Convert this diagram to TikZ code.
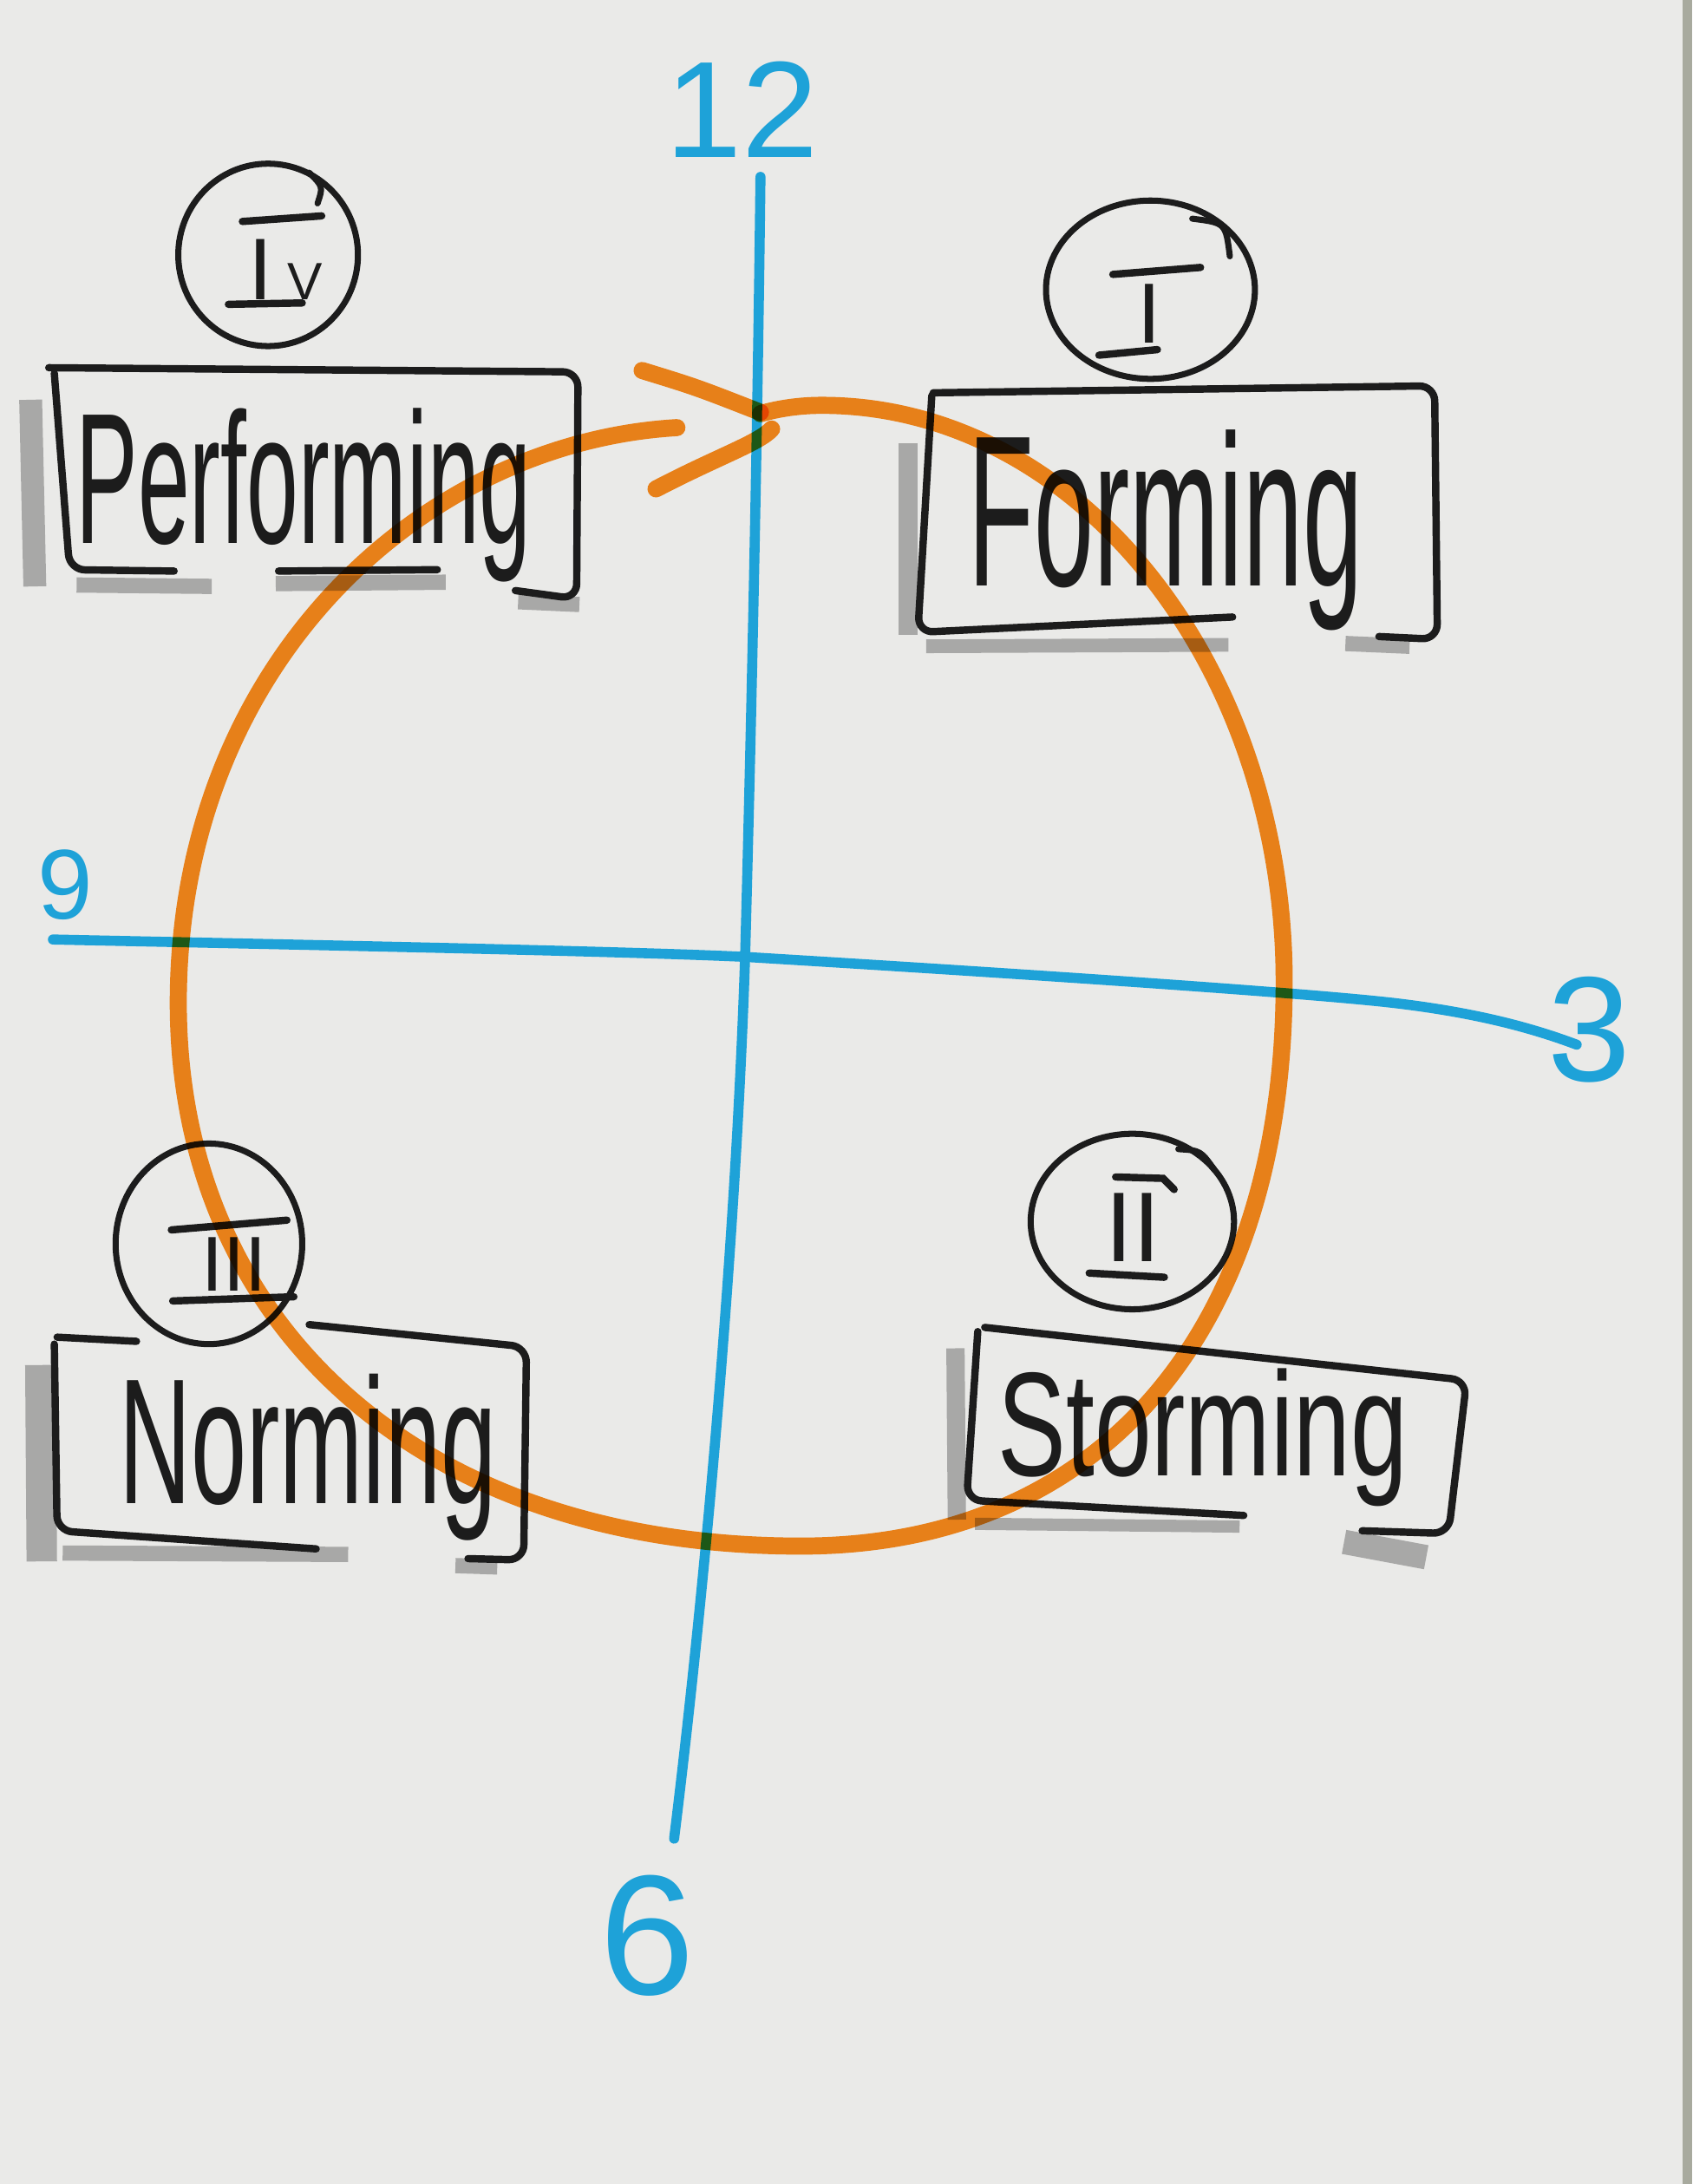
\documentclass[tikz,border=0pt]{standalone}
\usepackage{fontspec}
\setmainfont{Liberation Sans}
\usepackage{graphicx}
\usetikzlibrary{calc}
\newlength{\spx}
\setlength{\spx}{0.016058cm}

\definecolor{paper}{RGB}{234,234,232}
\definecolor{paperedge}{RGB}{168,170,158}
\definecolor{mblue}{RGB}{30,162,216}
\definecolor{morange}{RGB}{252,140,28}
\definecolor{ink}{RGB}{28,28,28}
\definecolor{shade}{RGB}{184,184,184}

\begin{document}
\begin{tikzpicture}[x=0.016058cm, y=-0.016058cm,
  blueline/.style={draw=mblue, line width=3.3pt, line cap=round, line join=round},
  orangeline/.style={draw=morange, line width=5.6pt, line cap=round, line join=round, blend mode=multiply},
  frame/.style={draw=ink, line width=2.4pt, line cap=round, line join=round, rounded corners=5pt},
  shadowline/.style={draw=shade, line cap=butt, blend mode=multiply},
  ring/.style={draw=ink, line width=2pt, line cap=round},
  bar/.style={draw=ink, line width=2.4pt, line cap=round},
  word/.style={inner sep=0pt, anchor=north west, text=ink},
  numeral/.style={inner sep=0pt, anchor=base, text=ink},
  hour/.style={inner sep=0pt, anchor=base, text=mblue},
]
% paper
\fill[paper] (0,0) rectangle (1215,1568);
\useasboundingbox (0,0) rectangle (1215,1568);
\fill[paperedge] (1208,0) rectangle (1215,1568);

% ---------- marker shadows ----------
% Performing
\draw[shadowline, line width=7.5pt] (22,287) -- (25,421);
\draw[shadowline, line width=5pt] (55,420) -- (152,421);
\draw[shadowline, line width=5pt] (198,419) -- (320,418);
\draw[shadowline, line width=5pt] (372,432) -- (416,434);
% Forming
\draw[shadowline, line width=6pt] (652,318) -- (652,456);
\draw[shadowline, line width=4.5pt] (665,464) -- (882,463);
\draw[shadowline, line width=5pt] (966,462) -- (1012,464);
% Norming
\draw[shadowline, line width=10pt] (29,980) -- (30,1121);
\draw[shadowline, line width=5pt] (45,1115) -- (250,1116);
\draw[shadowline, line width=5pt] (327,1124) -- (357,1125);
% Storming
\draw[shadowline, line width=6pt] (686,968) -- (687,1091);
\draw[shadowline, line width=4pt] (700,1094) -- (890,1096);
\draw[shadowline, line width=8pt] (965,1107) -- (1024,1118);

% ---------- clock axes ----------
\draw[blueline] (546,127) .. controls (544,300) and (540,500) .. (535,686)
  .. controls (528,900) and (505,1150) .. (484,1320);
\draw[blueline] (38,674.5) .. controls (250,679) and (450,683) .. (535,687)
  .. controls (700,697) and (930,712) .. (1000,720)
  .. controls (1060,727) and (1100,738) .. (1132,750);

\node[hour, font=\fontsize{45}{50}\selectfont] (h12) at (533,113) {12};
\node[hour, font=\fontsize{32.5}{36}\selectfont] (h9) at (47,660) {9};
\node[hour, font=\fontsize{49}{54}\selectfont] (h3) at (1141,776) {3};
\node[hour, font=\fontsize{56}{60}\selectfont] (h6) at (465,1432) {6};

% ---------- frames ----------
% Performing
\draw[frame] (370,424) -- (414,430) -- (415,267) -- (35,264);
\draw[frame] (39,268) -- (50,409) -- (125,410);
\draw[frame] (200,410) -- (314,409);
% Forming
\draw[frame] (990,457) -- (1032,459) -- (1030,277) -- (670,282);
\draw[frame] (669,284) -- (659,454) -- (885,443);
% Norming
\draw[frame] (41,960) -- (98,963);
\draw[frame] (222,951) -- (378,967) -- (376,1120) -- (336,1119);
\draw[frame] (39,965) -- (41,1099) -- (227,1112);
% Storming
\draw[frame] (978,1099) -- (1040,1101) -- (1053,991) -- (707,953);
\draw[frame] (702,956) -- (694,1077) -- (893,1088);

% ---------- phase words ----------
\node[word] (wPerf) at (54,293) {\resizebox{327\spx}{97\spx}{Performing}};
\node[word] (wForm) at (695,308) {\resizebox{283\spx}{112\spx}{Forming}};
\node[word] (wNorm) at (85,986) {\resizebox{271\spx}{93\spx}{Norming}};
\node[word] (wStorm) at (716,982) {\resizebox{294\spx}{77\spx}{Storming}};

% ---------- numbered rings ----------
% IV
\coordinate (cIV) at (192.5,183);
\draw[ring] (cIV) ellipse [x radius=64.5, y radius=65.5];
\draw[ring] (228,146) .. controls (232,134) .. (222,124);
\node[numeral, font=\fontsize{28.7}{32}\selectfont] (nIV) at (205,215) {I\,\scalebox{0.6}{V}};
\draw[bar] (174,159) -- (231,155);
\draw[bar] (164,218.5) -- (217,217.5);
% I
\coordinate (cI) at (826,208);
\draw[ring] (cI) ellipse [x radius=75, y radius=64];
\draw[ring] (856,157) .. controls (880,160) .. (883,184);
\node[numeral, font=\fontsize{28}{30}\selectfont] (nI) at (825,246) {I};
\draw[bar] (799,197) -- (862,192);
\draw[bar] (789,255) -- (831,251);
% III
\coordinate (cIII) at (150,893);
\draw[ring] (cIII) ellipse [x radius=67, y radius=72];
\node[numeral, font=\fontsize{25.5}{28}\selectfont] (nIII) at (168,927) {III};
\draw[bar] (123,883) -- (206,876);
\draw[bar] (124,934) -- (211,931);
% II
\coordinate (cII) at (813,877);
\draw[ring] (cII) ellipse [x radius=73, y radius=63];
\draw[ring] (846,825) .. controls (862,826) .. (872,840);
\node[numeral, font=\fontsize{32.5}{36}\selectfont] (nII) at (813.5,906) {II};
\draw[bar] (801,845) -- (835,846) -- (843,854);
\draw[bar] (782,914) -- (836,917);

% ---------- team cycle ----------
\draw[orangeline] (546,297) .. controls (560,293) and (575,291) .. (590,291)
  .. controls (773,291) and (922,476) .. (922,705)
  .. controls (922,956) and (790,1110) .. (575,1110)
  .. controls (300,1110) and (128,950) .. (128,720)
  .. controls (128,480) and (300,318) .. (486,307);
\draw[orangeline] (461,266) .. controls (500,278) .. (546,296);
\draw[orangeline] (471,351) .. controls (515,328) and (545,318) .. (554,308);
\end{tikzpicture}
\end{document}
